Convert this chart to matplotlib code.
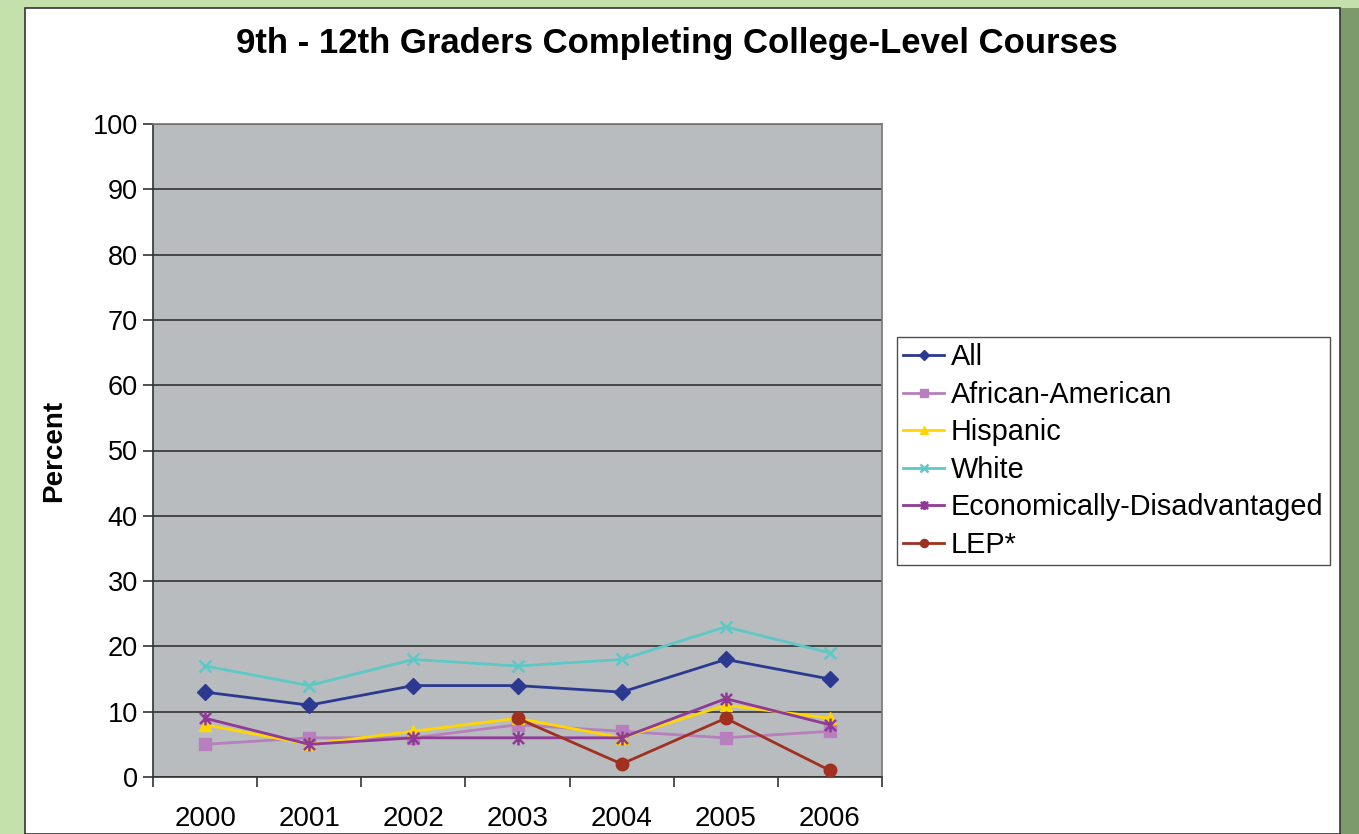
import matplotlib
matplotlib.use("Agg")
import matplotlib.pyplot as plt
from matplotlib.patches import Rectangle
from matplotlib.path import Path
import numpy as np

years = ["2000", "2001", "2002", "2003", "2004", "2005", "2006"]
all_students = [13, 11, 14, 14, 13, 18, 15]
african_american = [5, 6, 6, 8, 7, 6, 7]
hispanic = [8, 5, 7, 9, 6, 11, 9]
white = [17, 14, 18, 17, 18, 23, 19]
econ_disadv = [9, 5, 6, 6, 6, 12, 8]
lep = [np.nan, np.nan, np.nan, 9, 2, 9, 1]

# asterisk marker: an X with a vertical bar through it
star = Path([(-1, -1), (1, 1), (-1, 1), (1, -1), (0, -1.25), (0, 1.25)],
            [Path.MOVETO, Path.LINETO] * 3)

series = [
    ("All", all_students, "#2b3990", "D", 8),
    ("African-American", african_american, "#b77fbd", "s", 8),
    ("Hispanic", hispanic, "#ffd700", "^", 8),
    ("White", white, "#5ec8c6", "x", 9),
    ("Economically-Disadvantaged", econ_disadv, "#8e3a96", star, 10),
    ("LEP*", lep, "#a03020", "o", 9),
]

plt.rcParams["font.family"] = ["Liberation Sans", "DejaVu Sans"]

fig = plt.figure(figsize=(13.59, 8.34), dpi=100)
fig.patch.set_facecolor("#c5e1ab")
# white chart panel and right-side shadow
fig.patches.append(Rectangle((1340 / 1359, 0), 19 / 1359, 1 - 8 / 834,
                             transform=fig.transFigure, facecolor="#7d9a6c",
                             edgecolor="none", zorder=0))
fig.patches.append(Rectangle((25 / 1359, 0), 1315 / 1359, 1 - 8 / 834,
                             transform=fig.transFigure, facecolor="white",
                             edgecolor="#333333", linewidth=1.2, zorder=0))

ax = fig.add_axes([153 / 1359, 1 - 777 / 834, (882 - 153) / 1359, (777 - 124) / 834])
ax.set_zorder(2)
ax.set_facecolor("#b8bcbf")

x = np.arange(len(years))
handles = []
for name, vals, color, marker, ms in series:
    thin = isinstance(marker, Path) or marker == "x"
    h, = ax.plot(x, vals, color=color, marker=marker, markersize=ms, linewidth=2,
                 markeredgewidth=1.8 if thin else 1,
                 markeredgecolor=color, label=name, zorder=3)
    handles.append(h)

ax.set_xlim(-0.5, len(years) - 0.5)
ax.set_ylim(0, 100)
ax.set_yticks(np.arange(0, 101, 10))
ax.set_xticks(x)
ax.set_xticklabels(years)
ax.set_xticks(np.arange(-0.5, len(years), 1), minor=True)
ax.tick_params(axis="x", which="major", length=0, labelsize=20, pad=21)
ax.tick_params(axis="x", which="minor", length=7, width=1.2, color="#333333")
ax.tick_params(axis="y", labelsize=19.5, length=7, width=1.2, color="#333333", pad=4)
ax.grid(axis="y", color="#333333", linewidth=1.2, zorder=1)
ax.set_axisbelow(True)
for side in ("top", "right"):
    ax.spines[side].set_color("#777777")
    ax.spines[side].set_linewidth(1.2)
for side in ("left", "bottom"):
    ax.spines[side].set_color("#333333")
    ax.spines[side].set_linewidth(1.2)

ax.set_ylabel("Percent", fontsize=20, fontweight="bold", labelpad=18)

fig.text(677 / 1359, 1 - 43 / 834, "9th - 12th Graders Completing College-Level Courses",
         ha="center", va="center", fontsize=25, fontweight="bold")

leg = fig.legend(handles=handles, loc="upper left",
                 bbox_to_anchor=(897 / 1359, 1 - 337 / 834), fontsize=20.8,
                 frameon=True, fancybox=False, edgecolor="#222222",
                 handlelength=1.4, handletextpad=0.25, labelspacing=0.33,
                 borderpad=0.22, borderaxespad=0, markerscale=0.65)
leg.get_frame().set_linewidth(1.0)
leg.set_zorder(3)

fig.savefig("out.png", dpi=100, facecolor=fig.get_facecolor())
